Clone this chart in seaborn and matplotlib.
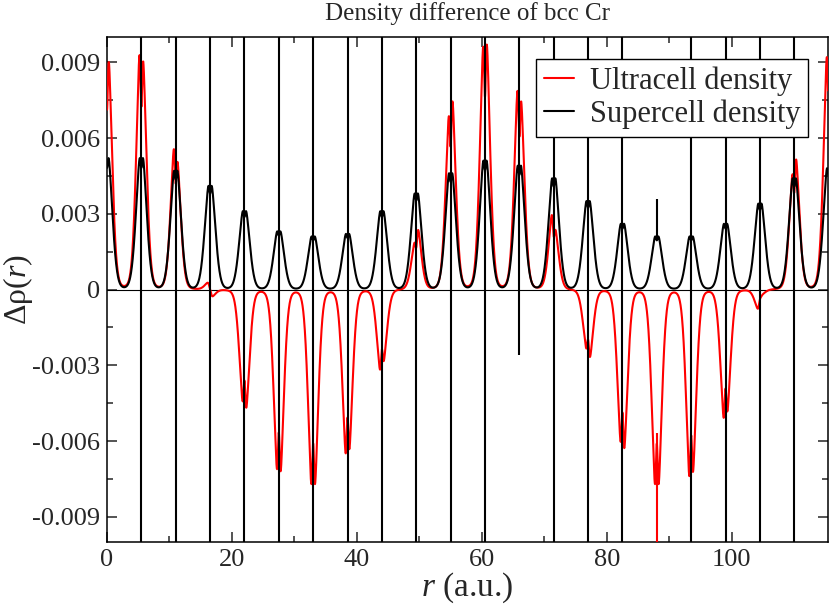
import numpy as np
import pandas as pd
import matplotlib
matplotlib.use('Agg')
import matplotlib.pyplot as plt
import seaborn as sns
from matplotlib.ticker import MultipleLocator, FuncFormatter

# atom sites along the line (a.u.)
sites = [0.0, 5.5, 11.0, 16.5, 22.0, 27.5, 33.0, 38.5, 44.0, 49.5, 55.0,
         60.5, 66.0, 71.5, 77.0, 82.5, 88.0, 93.5, 99.0, 104.5, 110.0, 115.5]

# supercell peak tops at each site
super_top = [0.0052, 0.0052, 0.0047, 0.0041, 0.0031, 0.0023, 0.0021, 0.0022,
             0.0031, 0.0038, 0.0046, 0.0051, 0.0049, 0.0044, 0.0035, 0.0026,
             0.0021, 0.0021, 0.0026, 0.0034, 0.0044, 0.0048]

# ultracell split peaks (left / right of each site)
ultra_left = [0.0090, 0.0093, 0.0056, 0.0003, -0.0044, -0.0071, -0.0077, -0.0065,
              -0.0032, 0.0018, 0.0068, 0.0096, 0.0079, 0.0030, -0.0023, -0.0060,
              -0.0077, -0.0074, -0.0051, -0.0008, 0.0045, 0.0092]
ultra_right = [0.0090, 0.0090, 0.0050, -0.0003, -0.0047, -0.0072, -0.0077, -0.0063,
               -0.0028, 0.0024, 0.0075, 0.0097, 0.0074, 0.0023, -0.0027, -0.0063,
               -0.0077, -0.0072, -0.0048, -0.0002, 0.0052, 0.0092]

# nuclear spikes of the supercell curve
spike_x = [5.5, 11.0, 16.5, 22.0, 27.5, 33.0, 38.5, 44.0, 49.5, 55.0,
           60.5, 66.0, 71.5, 77.0, 82.5, 88.0, 93.5, 99.0, 104.5, 110.0]
spike_top = [0.01, 0.01, 0.01, 0.01, 0.01, 0.01, 0.01, 0.01, 0.01, 0.01,
             0.01, 0.01, 0.01, 0.01, 0.01, 0.0036, 0.01, 0.01, 0.01, 0.01]
spike_bottom = [-0.01, -0.01, -0.01, -0.01, -0.01, -0.01, -0.01, -0.01, -0.01, -0.01,
                -0.01, -0.0026, -0.01, -0.01, -0.01, 0.0020, -0.01, -0.01, -0.01, -0.01]

# ultracell spike
red_spike_x = [88.0]
red_spike_top = [-0.0057]
red_spike_bottom = [-0.01]

X_MAX = 115.4

sns.set_style("ticks")
plt.rcParams['font.family'] = ['Liberation Serif', 'DejaVu Serif']
plt.rcParams['mathtext.fontset'] = 'custom'
plt.rcParams['mathtext.rm'] = 'Liberation Serif'
plt.rcParams['mathtext.it'] = 'Liberation Serif:italic'
plt.rcParams['axes.unicode_minus'] = False


def shape(d, gw):
    # peak with a slightly flared base
    return 0.85 * np.exp(-(d / gw) ** 2) + 0.15 / (1 + (d / 1.4) ** 2) ** 2


def notch(d, depth):
    return 1 - depth * np.exp(-(d / 0.2) ** 2)


dd = np.linspace(-1, 1, 2001)
norm_sup = (shape(dd, 1.1) * notch(dd, 0.15)).max()
norm_ult = (shape(dd, 1.0) * notch(dd, 0.3)).max()

# build curves from the read peak values
r = np.linspace(0, X_MAX, 6000)
sup = np.zeros_like(r)
ult = np.zeros_like(r)
for c, h, aL, aR in zip(sites, super_top, ultra_left, ultra_right):
    d = r - c
    sup += h * shape(d, 1.1) * notch(d, 0.15) / norm_sup
    s = 1 / (1 + np.exp(-d / 0.12))
    amp = aL * (1 - s) + aR * s
    ult += amp * shape(d, 1.0) * notch(d, 0.3) / norm_ult

df = pd.concat([
    pd.DataFrame({'r': r, 'rho': ult, 'series': 'Ultracell density'}),
    pd.DataFrame({'r': r, 'rho': sup, 'series': 'Supercell density'}),
])

fig = plt.figure(figsize=(8.3, 6.05), dpi=100)
ax = fig.add_axes([0.1289, 0.1041, 0.8687, 0.8347])

ax.axhline(0, color='black', lw=0.8, zorder=1)
sns.lineplot(data=df, x='r', y='rho', hue='series',
             hue_order=['Ultracell density', 'Supercell density'],
             palette={'Ultracell density': 'red', 'Supercell density': 'black'},
             estimator=None, lw=1.5, ax=ax, zorder=3)
ax.vlines(red_spike_x, red_spike_bottom, red_spike_top, color='red', lw=1.5, zorder=3)
ax.vlines(spike_x, spike_bottom, spike_top, color='black', lw=1.5, zorder=4)

ax.set_xlim(0, X_MAX)
ax.set_ylim(-0.01, 0.01)
ax.xaxis.set_major_locator(MultipleLocator(20))
ax.xaxis.set_minor_locator(MultipleLocator(10))
ax.yaxis.set_major_locator(MultipleLocator(0.003))
ax.yaxis.set_minor_locator(MultipleLocator(0.0015))
ax.yaxis.set_major_formatter(FuncFormatter(lambda v, _: '0' if abs(v) < 1e-9 else f'{v:.3f}'))
ax.tick_params(which='both', direction='in', top=True, right=True, width=1.1, labelsize=19)
ax.tick_params(which='major', length=7.5, pad=5)
ax.tick_params(which='minor', length=4)
for sp in ax.spines.values():
    sp.set_linewidth(1.1)
    sp.set_color('black')

ax.set_xlabel(r'$r$ (a.u.)', fontsize=24, labelpad=0)
ax.set_ylabel(r'Δρ($r$)', fontsize=23)
ax.yaxis.set_label_coords(-0.100, 0.5)
ax.set_title('Density difference of bcc Cr', fontsize=18, pad=12)

leg = ax.legend(loc='upper right', bbox_to_anchor=(0.972, 0.957), fontsize=22,
                frameon=True, fancybox=False, framealpha=1, edgecolor='black',
                handlelength=1.0, handletextpad=0.5, borderpad=0.25, labelspacing=0.12,
                borderaxespad=0)
leg.get_frame().set_linewidth(1.0)
leg.set_title(None)

fig.savefig('out.png', dpi=100)
